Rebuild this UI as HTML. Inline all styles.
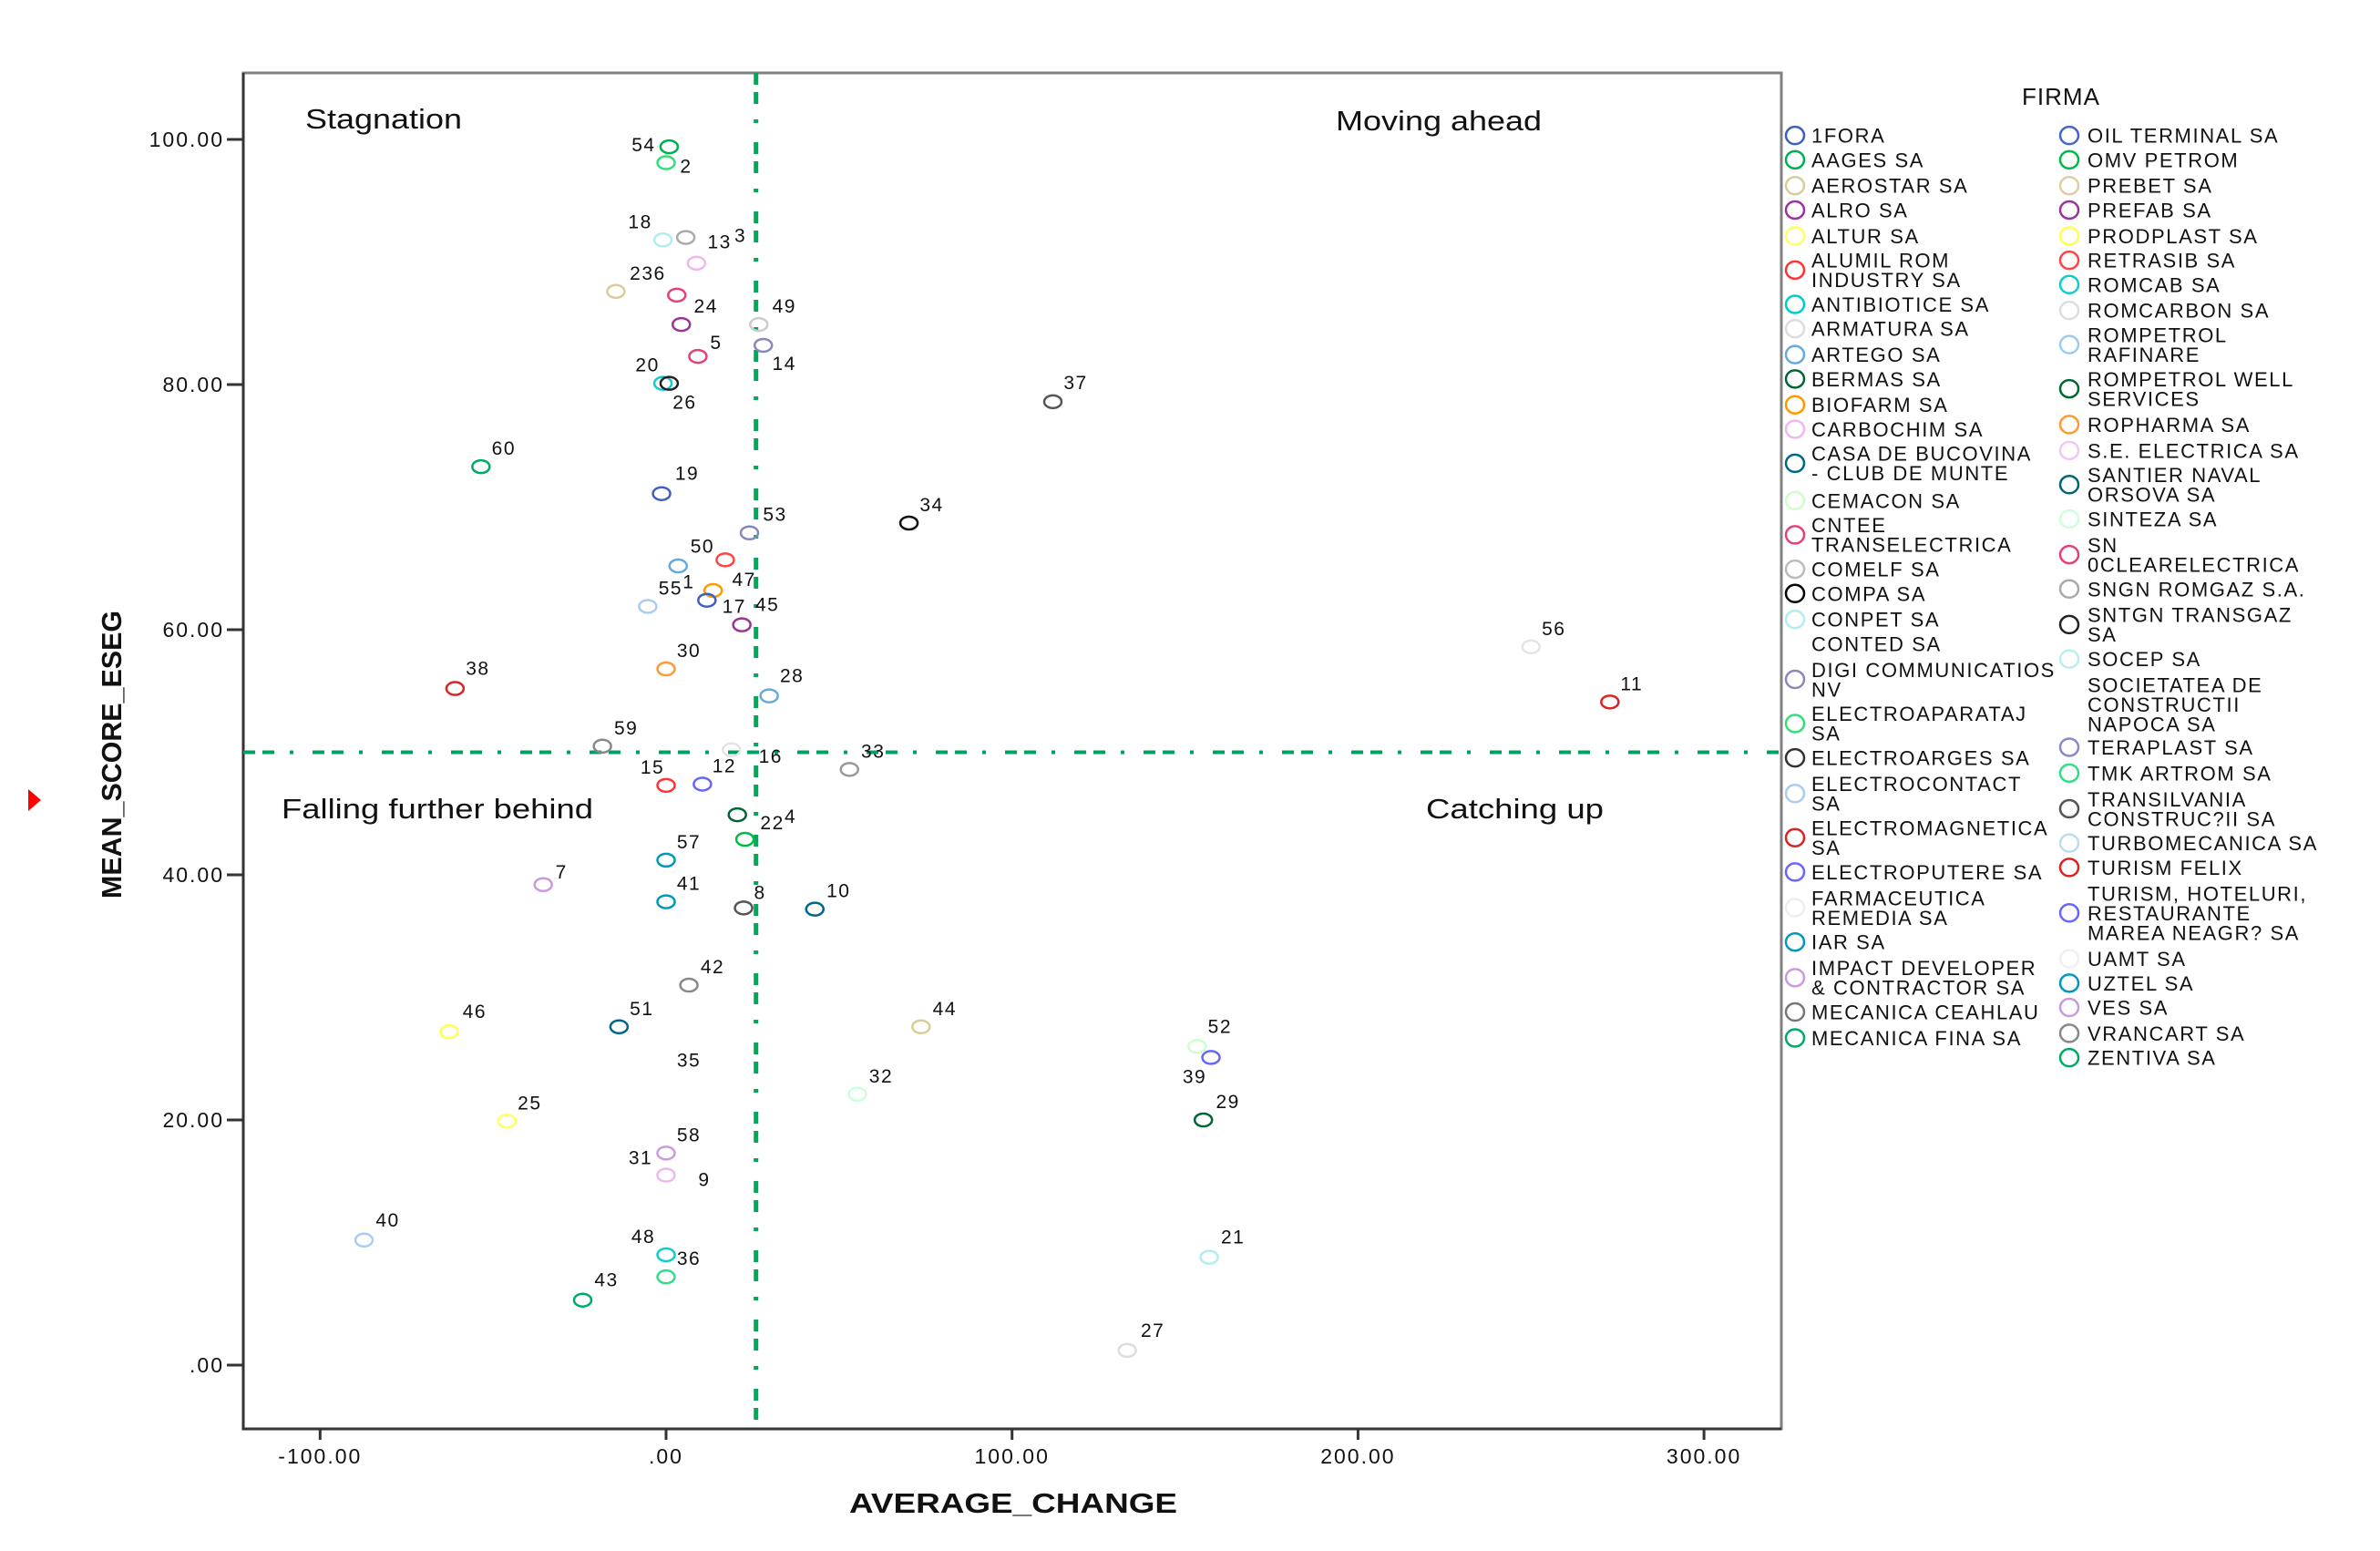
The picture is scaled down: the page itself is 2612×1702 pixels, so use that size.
<!DOCTYPE html>
<html><head><meta charset="utf-8"><title>Quadrant scatter: MEAN_SCORE_ESEG vs AVERAGE_CHANGE</title>
<style>html,body{margin:0;padding:0;background:#fff}svg{display:block}text{font-family:"Liberation Sans",sans-serif}</style>
</head><body>
<svg id="chart" width="2612" height="1702" viewBox="0 0 2612 1702" xmlns="http://www.w3.org/2000/svg">
<rect width="2612" height="1702" fill="#fff"/>
<g id="grid"></g>
<g id="pts"></g>
<g id="leg"></g>
</svg>
<script>
// ---- data ----
const xVals = [0.9,0,-0.9,5.7,8.8,-14.5,3.1,4.4,26.8,28.1,9.2,-0.9,0.9,111.8,-53.5,-1.3,70.2,24.1,17.1,3.5,-5.3,13.6,11.8,21.9,250,0,-61,29.8,272.8,-18.4,18.9,53,0,10.5,20.6,22.8,0,-35.5,0,22.4,43,6.6,-62.7,-13.6,73.7,0,153.5,157.5,55.3,-46,155.3,0,0,-87.3,0,0,157,-24.1,133.3];
const yVals = [99.4,98.1,91.8,92,89.9,87.6,87.3,84.9,84.9,83.2,82.3,80.1,80.1,78.6,73.3,71.1,68.7,67.9,65.7,65.2,61.9,63.2,62.4,60.4,58.6,56.8,55.2,54.6,54.1,50.5,50.2,48.6,47.3,47.4,44.9,42.9,41.2,39.2,37.8,37.3,37.2,31,27.2,27.6,27.6,23.4,26,25.1,22.1,19.9,20,17.3,15.5,10.2,9,7.2,8.8,5.3,1.2];
const colors = ["#00b050","#33dd77","#b0eeee","#aaaaaa","#eeb8ee","#d8cc98","#e6407a","#993399","#cccccc","#8888bb","#e6407a","#11cccc","#222222","#555555","#00aa66","#3f5fbf","#111111","#8888bb","#ff4444","#66aadd","#aaccee","#ff9900","#3f5fbf","#993399","#e4e4e4","#ff9933","#dd2222","#66aadd","#dd2222","#888888","#e4e4e4","#999999","#ff3333","#6666ff","#006633","#00bb44","#0099bb","#cc99dd","#0099bb","#555555","#006688","#888888","#ffff55","#006688","#d8cc98","#ffffff","#ccffcc","#6666ff","#ccffdd","#ffff66","#006633","#cc99dd","#eeb8ee","#aaccee","#11cccc","#33dd88","#b0eeee","#00aa66","#dddddd"];
const labels = ["54","2","18","13","","236","","24","49","14","5","20","26","37","60","19","34","53","50","","55","47","17","45","56","30","38","28","11","59","16","33","15","12","","22","57","7","41","8","10","42","46","51","44","35","52","39","32","25","29","58","9","40","48","36","21","43","27"];
const labelDx = [-28,22,-25,37,0,35,0,27,28,23,20,-17,17,25,25,28,25,28,-25,0,25,34,30,28,25,25,25,25,24,26,43,26,-15,24,0,30,25,20,25,18,26,26,28,25,26,25,25,-18,26,25,27,25,42,26,-25,25,26,26,28];
const labelDy = [-2,4,-20,5,0,-20,0,-20,-20,20,-15,-20,21,-21,-20,-22,-20,-20,-15,0,-20,-12,7,-22,-20,-20,-22,-22,-20,-20,7,-20,-20,-20,0,-18,-20,-14,-20,-17,-20,-20,-22,-20,-20,-20,-22,21,-20,-20,-20,-20,5,-22,-20,-20,-22,-22,-22];
const extraLabels = ["3","4","1","31"];
const extraDx = [60,50,45,-28];
const extraDy = [-2,-25,-27,5];
const extraOf = [3,35,20,51];
const xTicks = [-100,0,100,200,300];
const xTickLabels = ["-100.00",".00","100.00","200.00","300.00"];
const yTicks = [0,20,40,60,80,100];
const yTickLabels = [".00","20.00","40.00","60.00","80.00","100.00"];
const refX = [26];
const refY = [50];
const legendCol1 = ["1FORA","AAGES SA","AEROSTAR SA","ALRO SA","ALTUR SA","ALUMIL ROM|INDUSTRY SA","ANTIBIOTICE SA","ARMATURA SA","ARTEGO SA","BERMAS SA","BIOFARM SA","CARBOCHIM  SA","CASA DE BUCOVINA|- CLUB DE MUNTE","CEMACON SA","CNTEE|TRANSELECTRICA","COMELF SA","COMPA SA","CONPET SA","CONTED SA","DIGI COMMUNICATIOS|NV","ELECTROAPARATAJ|SA","ELECTROARGES SA","ELECTROCONTACT|SA","ELECTROMAGNETICA|SA","ELECTROPUTERE SA","FARMACEUTICA|REMEDIA SA","IAR SA","IMPACT DEVELOPER|& CONTRACTOR SA","MECANICA CEAHLAU","MECANICA FINA SA"];
const legendCol1Colors = ["#3f5fbf","#00b050","#d8cc98","#993399","#ffff66","#ff3333","#00cccc","#dddddd","#66aadd","#006633","#ff9900","#eeb8ee","#006688","#ccffcc","#e6407a","#bbbbbb","#000000","#b0eeee","#ffffff","#8888bb","#33dd77","#333333","#aaccee","#dd2222","#6666ff","#eeeeee","#0099bb","#cc99dd","#777777","#00aa66"];
const legendCol1Y = [89,105,122,138,155,171,200,216,233,249,266,282,298,329,345,374,390,407,423,440,469,498,515,544,573,590,619,636,665,682];
const legendCol2 = ["OIL TERMINAL SA","OMV PETROM","PREBET SA","PREFAB SA","PRODPLAST SA","RETRASIB SA","ROMCAB SA","ROMCARBON SA","ROMPETROL|RAFINARE","ROMPETROL WELL|SERVICES","ROPHARMA SA","S.E. ELECTRICA SA","SANTIER NAVAL|ORSOVA SA","SINTEZA SA","SN|0CLEARELECTRICA","SNGN ROMGAZ S.A.","SNTGN TRANSGAZ|SA","SOCEP SA","SOCIETATEA DE|CONSTRUCTII|NAPOCA SA","TERAPLAST SA","TMK ARTROM SA","TRANSILVANIA|CONSTRUC?II SA","TURBOMECANICA SA","TURISM FELIX","TURISM, HOTELURI,|RESTAURANTE|MAREA NEAGR? SA","UAMT SA","UZTEL SA","VES SA","VRANCART SA","ZENTIVA SA"];
const legendCol2Colors = ["#4466cc","#00bb44","#ddd0a0","#993399","#ffff55","#ff4444","#11cccc","#dddddd","#99ccee","#006633","#ff9933","#f0c8f0","#006677","#ccffdd","#e6407a","#aaaaaa","#222222","#bbeeee","#ffffff","#8888cc","#33dd88","#555555","#bbddf0","#dd2222","#6666ff","#f0f0f0","#0099bb","#cc99dd","#888888","#00aa66"];
const legendCol2Y = [89,105,122,138,155,171,187,204,220,249,279,296,312,341,358,387,404,433,450,491,508,525,554,570,587,630,646,662,679,695];

// ---- scales ----
const L=267,R=1955,T=80,B=1568;
const X = v => 731 + v*3.797;
const Y = v => 1498 - v*13.45;
const NS="http://www.w3.org/2000/svg";
function mk(tag, attrs, parent){const e=document.createElementNS(NS,tag);for(const k in attrs)e.setAttribute(k,attrs[k]);parent.appendChild(e);return e;}
const svg=document.getElementById('chart');
const grid=document.getElementById('grid');
const pts=document.getElementById('pts');
const leg=document.getElementById('leg');

// frame
let f=mk('rect',{x:L,y:T,width:R-L,height:B-T,fill:'none',stroke:'#808080','stroke-width':3},grid);


let ax=mk('path',{d:`M${L},${T} L${L},${B} L${R},${B}`,fill:'none',stroke:'#333','stroke-width':3},grid);



// ticks
xTicks.forEach((v,i)=>{
  const l=mk('line',{x1:X(v),x2:X(v),y1:B,y2:B+12,stroke:'#333','stroke-width':3},grid);
  
  
  const t=mk('text',{x:X(v),y:1606,'text-anchor':'middle','font-size':23,'letter-spacing':2,fill:'#111'},grid);
  t.textContent=xTickLabels[i];
  
  
});
yTicks.forEach((v,i)=>{
  const l=mk('line',{x1:L-18,x2:L,y1:Y(v),y2:Y(v),stroke:'#333','stroke-width':3},grid);
  
  
  const t=mk('text',{x:246,y:Y(v)+8,'text-anchor':'end','font-size':23,'letter-spacing':2,fill:'#111'},grid);
  t.textContent=yTickLabels[i];
  
  
});

// reference lines
refX.forEach(v=>{
  const l=mk('line',{x1:X(v),x2:X(v),y1:T,y2:B,stroke:'#00a85a','stroke-width':5,'stroke-dasharray':'13 8 13 17 4 21'},grid);
  
  
});
refY.forEach(v=>{
  const l=mk('line',{x1:L,x2:R,y1:Y(v),y2:Y(v),stroke:'#00a060','stroke-width':4,'stroke-dasharray':'13 8 13 17 4 21'},grid);
  
  
});

// quadrant labels & titles
[["Stagnation",335,141,172,'stagnation-label'],["Moving ahead",1466,143,226,'moving-ahead-label'],["Falling further behind",309,898,342,'falling-behind-label'],["Catching up",1565,898,195,'catching-up-label']].forEach(q=>{
  const t=mk('text',{x:q[1],y:q[2],'font-size':31,fill:'#111',textLength:q[3],lengthAdjust:'spacingAndGlyphs'},grid);
  t.textContent=q[0];
  
  
});
let xt=mk('text',{x:1112,y:1660,'text-anchor':'middle','font-size':31,'font-weight':'bold',fill:'#111',textLength:360,lengthAdjust:'spacingAndGlyphs'},grid);
xt.textContent='AVERAGE_CHANGE';


let yt=mk('text',{x:0,y:0,'text-anchor':'middle','font-size':31,'font-weight':'bold',fill:'#111',transform:'translate(133,828) rotate(-90)',textLength:316,lengthAdjust:'spacingAndGlyphs'},grid);
yt.textContent='MEAN_SCORE_ESEG';


let tri=mk('path',{d:'M31,866 L45,878 L31,890 Z',fill:'#ff0000'},grid);



// points
xVals.forEach((xv,i)=>{
  const c=mk('ellipse',{cx:X(xv),cy:Y(yVals[i]),rx:9.5,ry:7,fill:'none',stroke:colors[i],'stroke-width':2.5},pts);
  
  
  if(labels[i]){
    const t=mk('text',{x:X(xv)+labelDx[i],y:Y(yVals[i])+labelDy[i]+7,'text-anchor':'middle','font-size':21,'letter-spacing':1.5,fill:'#111'},pts);
    t.textContent=labels[i];
    
    
  }
});
extraLabels.forEach((s,i)=>{
  const j=extraOf[i];
  const t=mk('text',{x:X(xVals[j])+extraDx[i],y:Y(yVals[j])+extraDy[i]+7,'text-anchor':'middle','font-size':21,'letter-spacing':1.5,fill:'#111'},pts);
  t.textContent=s;
  
  
});

// legend
let lt=mk('text',{x:2262,y:115,'text-anchor':'middle','font-size':26,'letter-spacing':1,fill:'#111'},leg);
lt.textContent='FIRMA';


function legendCol(names,cols,ys,mx,tx){
  names.forEach((n,i)=>{
    const lines=n.split('|');
    const y0=ys[i]*1.67;
    const h=(lines.length-1)*21.5;
    const g=mk('g',{},leg);
    
    
    mk('ellipse',{cx:mx,cy:y0+h/2,rx:10,ry:9.5,fill:'none',stroke:cols[i],'stroke-width':2.5},g);
    lines.forEach((s,k)=>{
      const t=mk('text',{x:tx,y:y0+k*21.5+8,'font-size':22,'letter-spacing':1.6,fill:'#111'},g);
      t.textContent=s;
    });
  });
}
legendCol(legendCol1,legendCol1Colors,legendCol1Y,1970,1988);
legendCol(legendCol2,legendCol2Colors,legendCol2Y,2271,2291);
</script>
</body></html>
